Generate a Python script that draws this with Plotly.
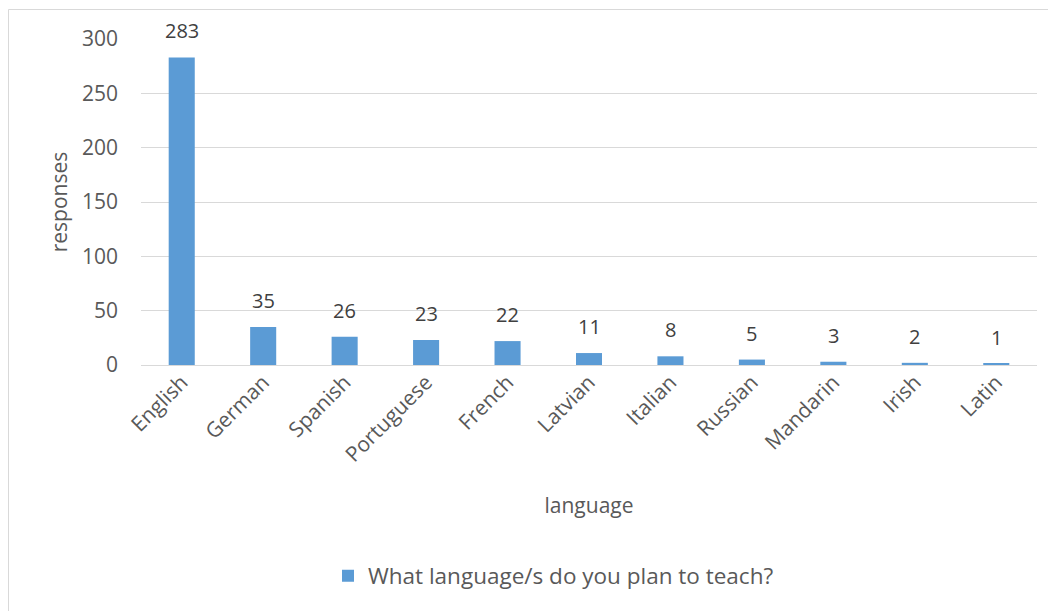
import plotly.graph_objects as go

languages = ["English", "German", "Spanish", "Portuguese", "French", "Latvian",
             "Italian", "Russian", "Mandarin", "Irish", "Latin"]
responses = [283, 35, 26, 23, 22, 11, 8, 5, 3, 2, 1]
series_name = "What language/s do you plan to teach?"
y_ticks = [0, 50, 100, 150, 200, 250, 300]

# page body has an 8px margin, so the figure is drawn 8px in from the window edge
OFF = 8
W, H = 1056 - OFF, 611 - OFF
L, T = 141 - OFF, 39 - OFF
pw, ph = 896, 326
R, B = W - L - pw, H - T - ph

font_family = "Open Sans, Noto Sans, sans-serif"
gray = "#595959"
blue = "#5B9BD5"
FS = 21

fig = go.Figure()
fig.add_trace(go.Bar(
    x=languages, y=responses, name=series_name,
    marker=dict(color=blue, line=dict(width=0)),
))

annotations = [
    dict(x=lang, y=val, xref="x", yref="y", text=str(val), showarrow=False,
         yanchor="bottom", yshift=11, font=dict(size=FS - 1, color="#404040"))
    for lang, val in zip(languages, responses)
]

def px_x(px):
    return (px - OFF - L) / pw

def px_y(py):
    return 1 - (py - OFF - T) / ph

fig.update_layout(
    width=W, height=H,
    margin=dict(l=L, r=R, t=T, b=B, autoexpand=False),
    paper_bgcolor="white", plot_bgcolor="white",
    bargap=0.68,
    showlegend=True,
    font=dict(family=font_family, color=gray, size=FS),
    annotations=annotations,
    xaxis=dict(
        tickangle=-45, tickfont=dict(size=FS, color=gray),
        showgrid=False, showline=False, ticks="",
        title=dict(text="language", font=dict(size=FS, color=gray), standoff=31),
    ),
    yaxis=dict(
        range=[0, 300], tickvals=y_ticks, tickfont=dict(size=FS, color=gray),
        showgrid=True, gridcolor="#D9D9D9", gridwidth=1,
        zeroline=True, zerolinecolor="#D9D9D9", zerolinewidth=1,
        ticks="", showline=False, ticklabelstandoff=22,
        title=dict(text="responses", font=dict(size=FS, color=gray), standoff=8),
    ),
    legend=dict(
        orientation="h", x=px_x(328), xanchor="left", y=px_y(576), yanchor="middle",
        font=dict(size=22.5, color=gray), itemsizing="constant",
    ),
    shapes=[dict(
        type="rect", xref="paper", yref="paper",
        x0=px_x(8.5), x1=px_x(1055.5), y0=px_y(616), y1=px_y(9.5),
        line=dict(color="#D9D9D9", width=1), fillcolor="rgba(0,0,0,0)", layer="below",
    )],
)

fig.write_html("out.html")
